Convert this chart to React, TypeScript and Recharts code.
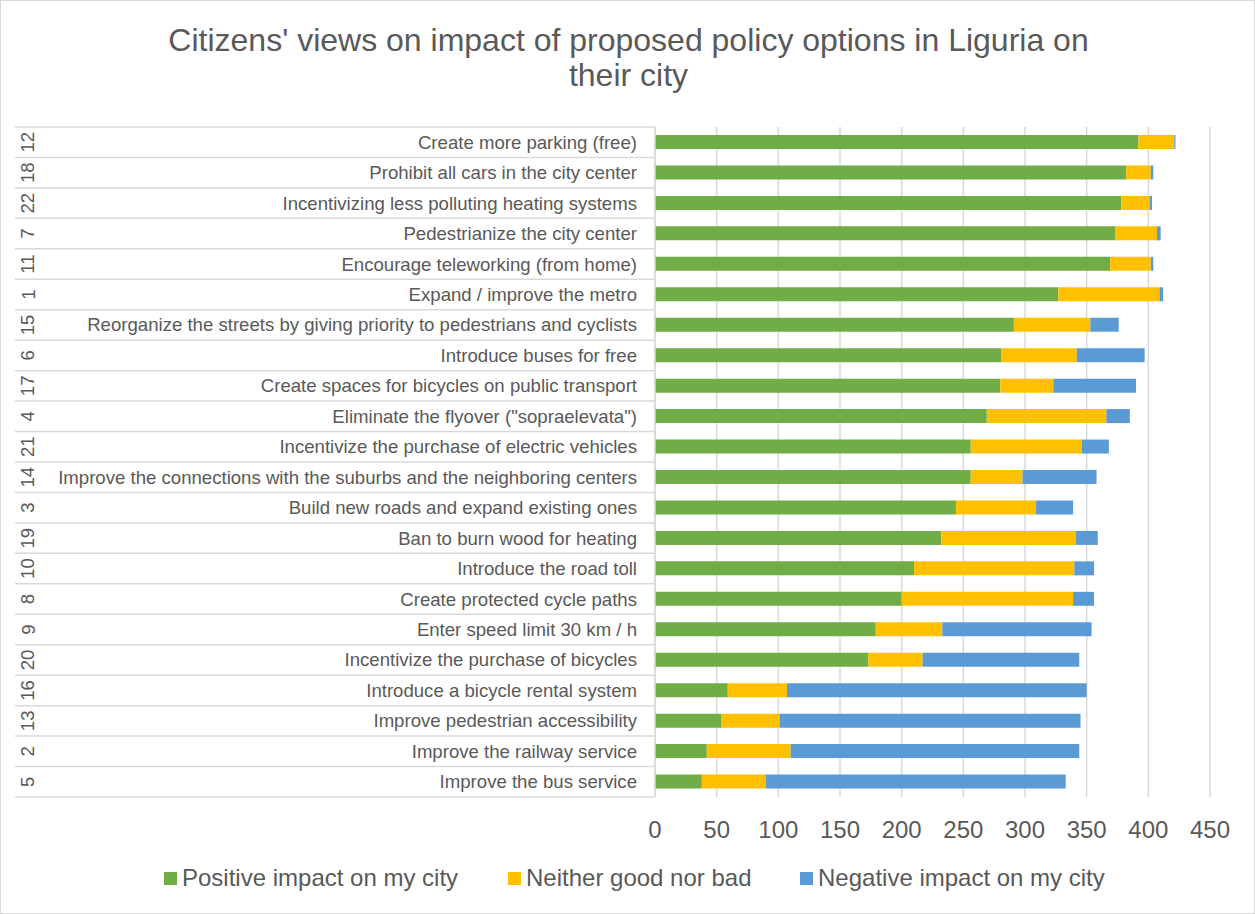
import { Bar, BarChart, CartesianGrid, XAxis, YAxis } from "recharts";

const ids = ["12", "18", "22", "7", "11", "1", "15", "6", "17", "4", "21", "14", "3", "19", "10", "8", "9", "20", "16", "13", "2", "5"];
const policies = [
  "Create more parking (free)",
  "Prohibit all cars in the city center",
  "Incentivizing less polluting heating systems",
  "Pedestrianize the city center",
  "Encourage teleworking (from home)",
  "Expand / improve the metro",
  "Reorganize the streets by giving priority to pedestrians and cyclists",
  "Introduce buses for free",
  "Create spaces for bicycles on public transport",
  'Eliminate the flyover ("sopraelevata")',
  "Incentivize the purchase of electric vehicles",
  "Improve the connections with the suburbs and the neighboring centers",
  "Build new roads and expand existing ones",
  "Ban to burn wood for heating",
  "Introduce the road toll",
  "Create protected cycle paths",
  "Enter speed limit 30 km / h",
  "Incentivize the purchase of bicycles",
  "Introduce a bicycle rental system",
  "Improve pedestrian accessibility",
  "Improve the railway service",
  "Improve the bus service",
];
const positive = [392, 382, 378, 373, 369, 327, 291, 281, 280, 269, 256, 256, 244, 232, 210, 200, 179, 173, 59, 54, 42, 38];
const neutral = [29, 20, 23, 34, 33, 82, 62, 61, 43, 97, 90, 42, 65, 109, 130, 139, 54, 44, 48, 47, 68, 52];
const negative = [1, 2, 2, 3, 2, 3, 23, 55, 67, 19, 22, 60, 30, 18, 16, 17, 121, 127, 243, 244, 234, 243];
const xTicks = [0, 50, 100, 150, 200, 250, 300, 350, 400, 450];

const series = [
  { key: "positive", name: "Positive impact on my city", color: "#70AD47" },
  { key: "neutral", name: "Neither good nor bad", color: "#FFC000" },
  { key: "negative", name: "Negative impact on my city", color: "#5B9BD5" },
];

const data = policies.map((name, i) => ({
  name,
  id: ids[i],
  positive: positive[i],
  neutral: neutral[i],
  negative: negative[i],
}));

const W = 1255;
const H = 914;
const PLOT_TOP = 127;
const PLOT_BOTTOM = 797;
const BAND = (PLOT_BOTTOM - PLOT_TOP) / policies.length;
const TEXT = "#595959";
const LINE = "#d9d9d9";
const FONT = '"Liberation Sans", Arial, sans-serif';

const CategoryTick = (props: any) => {
  const { y, payload, index } = props;
  const top = y - BAND / 2;
  return (
    <g>
      <line x1={15} x2={655} y1={top} y2={top} stroke={LINE} strokeWidth={1.5} />
      {index === policies.length - 1 && (
        <line x1={15} x2={655} y1={top + BAND} y2={top + BAND} stroke={LINE} strokeWidth={1.5} />
      )}
      <text x={637} y={y} textAnchor="end" dominantBaseline="central" fontSize={18.6} fill={TEXT} fontFamily={FONT}>
        {payload.value}
      </text>
      <text
        x={28}
        y={y}
        textAnchor="middle"
        dominantBaseline="central"
        fontSize={18.6}
        fill={TEXT}
        fontFamily={FONT}
        transform={`rotate(-90 28 ${y})`}
      >
        {ids[index]}
      </text>
    </g>
  );
};

const ValueTick = (props: any) => {
  const { x, payload } = props;
  return (
    <text x={x} y={829} textAnchor="middle" dominantBaseline="central" fontSize={24} fill={TEXT} fontFamily={FONT}>
      {payload.value}
    </text>
  );
};

const legendLefts = [164, 508, 800];

export default function App() {
  return (
    <div
      style={{
        position: "absolute",
        left: 0,
        top: 0,
        width: W - 2,
        height: H - 2,
        border: `1px solid ${LINE}`,
        background: "#fff",
        overflow: "hidden",
      }}
    >
      <div
        style={{
          position: "absolute",
          left: 0,
          top: 22,
          width: W,
          textAlign: "center",
          fontFamily: FONT,
          fontSize: 32,
          lineHeight: "35px",
          color: TEXT,
        }}
      >
        Citizens' views on impact of proposed policy options in Liguria on
        <br />
        their city
      </div>
      <div style={{ position: "absolute", left: -1, top: -1 }}>
        <BarChart
          width={W}
          height={H}
          data={data}
          layout="vertical"
          margin={{ top: PLOT_TOP, bottom: H - PLOT_BOTTOM - 1, left: 0, right: W - 1210 }}
          barSize={14}
        >
          <CartesianGrid horizontal={false} stroke={LINE} strokeWidth={1.5} />
          <XAxis
            type="number"
            domain={[0, 450]}
            ticks={xTicks}
            axisLine={false}
            tickLine={false}
            tick={<ValueTick />}
            height={1}
          />
          <YAxis
            type="category"
            dataKey="name"
            width={655}
            axisLine={{ stroke: LINE, strokeWidth: 1.5 }}
            tickLine={false}
            interval={0}
            tick={<CategoryTick />}
          />
          {series.map((s) => (
            <Bar key={s.key} dataKey={s.key} stackId="a" fill={s.color} name={s.name} isAnimationActive={false} />
          ))}
        </BarChart>
      </div>
      {series.map((s, i) => (
        <div
          key={s.key}
          style={{
            position: "absolute",
            left: legendLefts[i] - 1,
            top: 862,
            height: 30,
            display: "flex",
            alignItems: "center",
            gap: 5,
            fontFamily: FONT,
            fontSize: 24,
            color: TEXT,
            whiteSpace: "nowrap",
          }}
        >
          <span style={{ width: 13, height: 13, background: s.color, display: "inline-block" }} />
          <span>{s.name}</span>
        </div>
      ))}
    </div>
  );
}
